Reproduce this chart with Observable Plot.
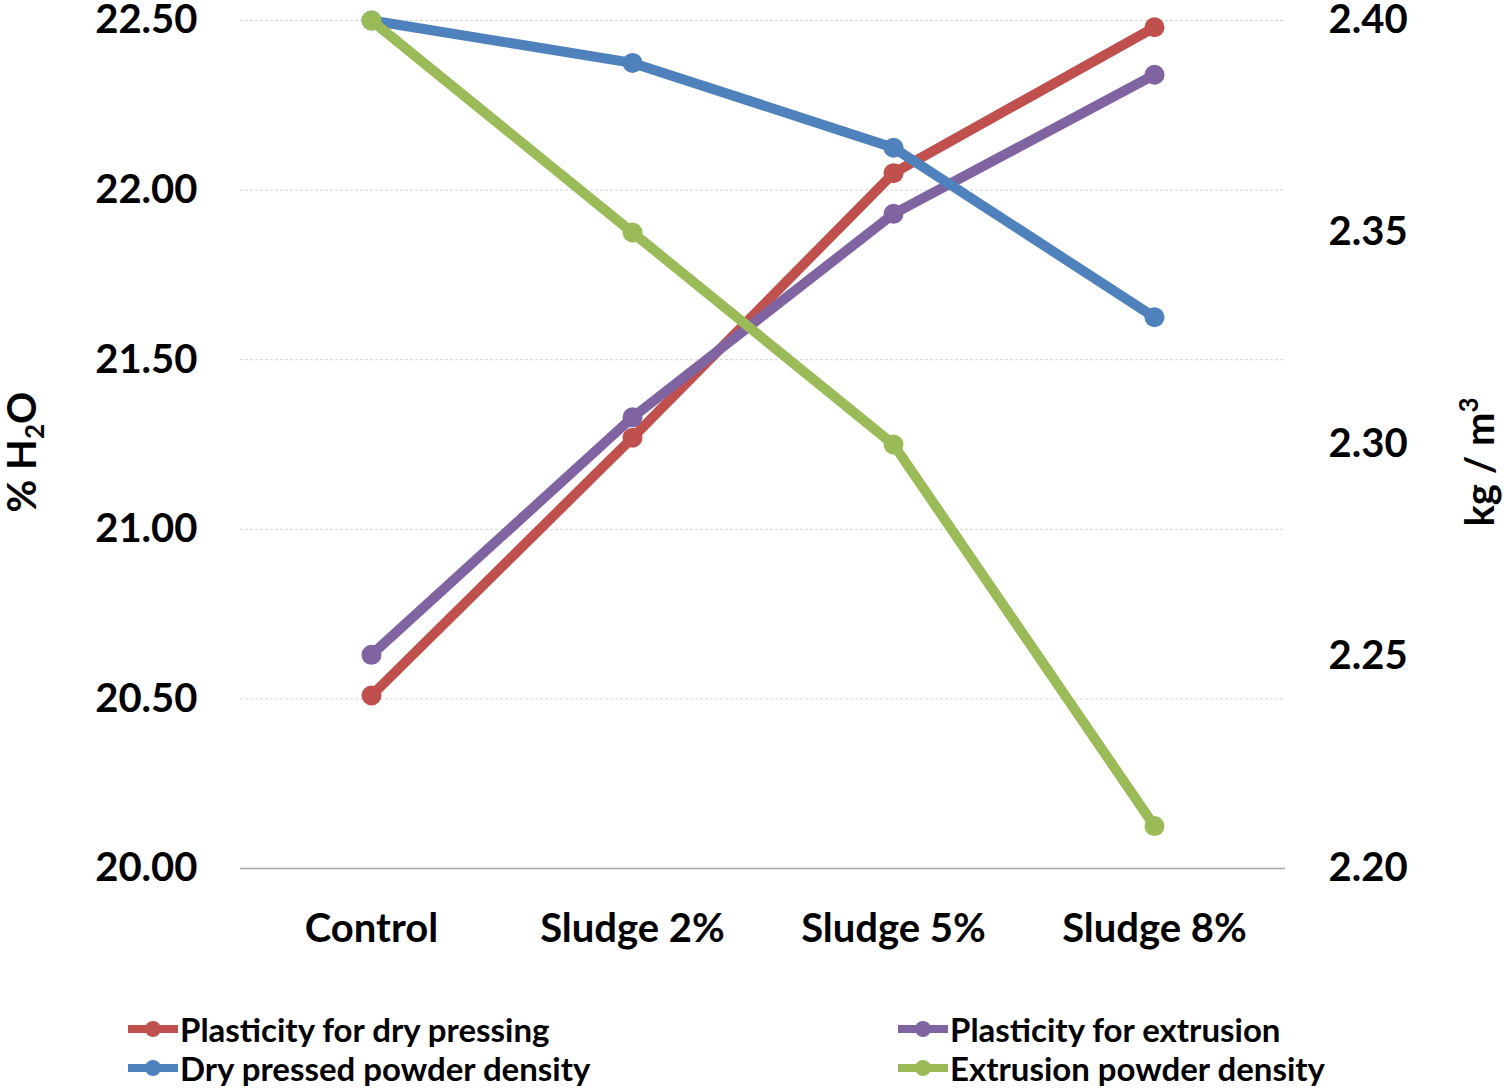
<!DOCTYPE html>
<html>
<head>
<meta charset="utf-8">
<script src="https://cdn.jsdelivr.net/npm/d3@7"></script>
<script src="https://cdn.jsdelivr.net/npm/@observablehq/plot@0.6"></script>
<style>
  body { margin: 0; background: #fff; font-family: Lato, "Open Sans", sans-serif; }
  #legend { position: relative; height: 129px; font-weight: bold; font-size: 33px; color: #000; }
  .item { position: absolute; display: flex; align-items: center; height: 39px; }
  .item svg { margin-right: 2px; }
</style>
</head>
<body>
<div id="chart"></div>
<div id="legend"></div>
<script>
const categories = ["Control", "Sludge 2%", "Sludge 5%", "Sludge 8%"];
const dryPressPlasticity = [20.51, 21.27, 22.05, 22.48];
const extrusionPlasticity = [20.63, 21.33, 21.93, 22.34];
const dryPressDensity = [2.40, 2.39, 2.37, 2.33];
const extrusionDensity = [2.40, 2.35, 2.30, 2.21];
const leftTicks = [20, 20.5, 21, 21.5, 22, 22.5];
const rightTicks = [2.20, 2.25, 2.30, 2.35, 2.40];

const seriesNames = ["Plasticity for dry pressing", "Plasticity for extrusion", "Dry pressed powder density", "Extrusion powder density"];
const seriesColors = ["#c0504d", "#8064a2", "#4f81bd", "#9bbb59"];

// right axis values are put on the left scale
const toLeft = (v) => 20 + (v - 2.2) / 0.2 * 2.5;
const fromLeft = (d) => (d - 20) / 2.5 * 0.2 + 2.2;

let rows = [];
[dryPressPlasticity, extrusionPlasticity].forEach((vals, s) => {
  vals.forEach((v, i) => rows.push({series: seriesNames[s], cat: categories[i], y: v}));
});
[dryPressDensity, extrusionDensity].forEach((vals, s) => {
  vals.forEach((v, i) => rows.push({series: seriesNames[s + 2], cat: categories[i], y: toLeft(v)}));
});

let chart = Plot.plot({
  width: 1508,
  height: 960,
  marginTop: 20,
  marginBottom: 92,
  marginLeft: 240,
  marginRight: 223,
  style: {fontFamily: "Lato, 'Open Sans', sans-serif", fontWeight: "bold", fontSize: "40px", color: "#000", overflow: "visible"},
  x: {type: "point", domain: categories, padding: 0.5},
  y: {domain: [20, 22.5]},
  color: {domain: seriesNames, range: seriesColors},
  marks: [
    Plot.ruleY(leftTicks.filter(d => d > 20), {stroke: "#d4d4d4", strokeWidth: 1, strokeDasharray: "3,2"}),
    Plot.ruleY([20], {stroke: "#a6a6a6", strokeWidth: 1.5}),
    Plot.axisY({ticks: leftTicks, tickFormat: d => d.toFixed(2), tickSize: 0, tickPadding: 43, label: null, fontSize: 40}),
    Plot.axisY({anchor: "right", ticks: rightTicks.map(toLeft), tickFormat: d => fromLeft(d).toFixed(2), tickSize: 0, tickPadding: 43, label: null, fontSize: 40}),
    Plot.axisX({tickSize: 0, tickPadding: 45, label: null, fontSize: 40}),
    Plot.line(rows, {x: "cat", y: "y", z: "series", stroke: "series", strokeWidth: 10}),
    Plot.dot(rows, {x: "cat", y: "y", fill: "series", r: 10})
  ]
});

// axis titles with sub/superscripts
const svg = d3.select(chart);
const lt = svg.append("text")
  .attr("transform", "translate(36,452) rotate(-90)")
  .attr("text-anchor", "middle")
  .attr("font-size", 40).attr("font-weight", "bold");
lt.append("tspan").text("% H");
lt.append("tspan").text("2").attr("font-size", 26).attr("dy", 8);
lt.append("tspan").text("O").attr("dy", -8);

const rt = svg.append("text")
  .attr("transform", "translate(1494,462) rotate(-90)")
  .attr("text-anchor", "middle")
  .attr("font-size", 40).attr("font-weight", "bold");
rt.append("tspan").text("kg / m");
rt.append("tspan").text("3").attr("font-size", 26).attr("dy", -16);

d3.select("#chart").append(() => chart);

// legend, filled row by row
const pos = [[128, 68], [898, 68], [128, 107], [898, 107]];
seriesNames.forEach((name, s) => {
  const item = d3.select("#legend").append("div").attr("class", "item")
    .style("left", pos[s][0] + "px").style("top", (pos[s][1] - 19) + "px");
  const sw = item.append("svg").attr("width", 50).attr("height", 20);
  sw.append("line").attr("x1", 0).attr("x2", 50).attr("y1", 10).attr("y2", 10)
    .attr("stroke", seriesColors[s]).attr("stroke-width", 8);
  sw.append("circle").attr("cx", 25).attr("cy", 10).attr("r", 8).attr("fill", seriesColors[s]);
  item.append("span").text(name);
});
</script>
</body>
</html>
